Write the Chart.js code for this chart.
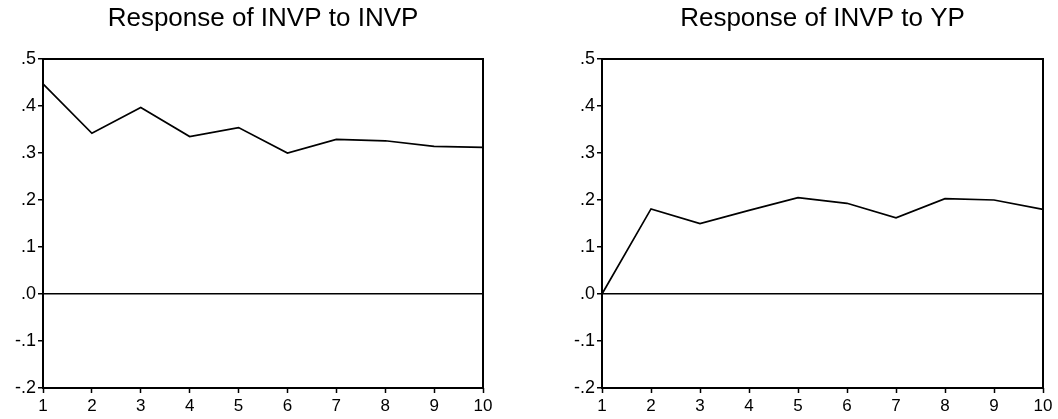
<!DOCTYPE html>
<html>
<head>
<meta charset="utf-8">
<script src="https://cdn.jsdelivr.net/npm/chart.js@4"></script>
<style>
  html, body { margin: 0; padding: 0; background: #fff; }
  .panel { position: absolute; top: 0; width: 529px; height: 419px; }
</style>
</head>
<body>
<div class="panel" style="left:0"><canvas id="chartLeft" width="529" height="419"></canvas></div>
<div class="panel" style="left:529px"><canvas id="chartRight" width="529" height="419"></canvas></div>
<script>
const periods = ['1', '2', '3', '4', '5', '6', '7', '8', '9', '10'];
const invpToInvp = [0.447, 0.342, 0.397, 0.335, 0.354, 0.300, 0.329, 0.326, 0.314, 0.312];
const invpToYp = [0.000, 0.181, 0.150, 0.178, 0.205, 0.193, 0.162, 0.203, 0.200, 0.180];
const titleLeft = 'Response of INVP to INVP';
const titleRight = 'Response of INVP to YP';
const yMin = -0.2;
const yMax = 0.5;
const yStep = 0.1;

const fontFamily = '"Liberation Sans", Arial, Helvetica, sans-serif';
Chart.defaults.font.family = fontFamily;
Chart.defaults.color = '#000';

// title text + box round the plot area
const framePlugin = {
    id: 'frame',
    afterDraw(chart, args, opts) {
        const a = chart.chartArea;
        const ctx = chart.ctx;
        ctx.save();
        ctx.strokeStyle = '#000';
        ctx.lineWidth = 2;
        ctx.strokeRect(a.left, a.top, a.right - a.left, a.bottom - a.top);
        ctx.fillStyle = '#000';
        ctx.font = '26px ' + fontFamily;
        ctx.textAlign = 'center';
        ctx.textBaseline = 'alphabetic';
        ctx.fillText(opts.text, (a.left + a.right) / 2, 26);
        ctx.restore();
    }
};

function makeChart(id, title, values, axisWidth, padRight) {
    return new Chart(document.getElementById(id), {
        type: 'line',
        data: {
            labels: periods,
            datasets: [{
                data: values,
                borderColor: '#000',
                borderWidth: 1.7,
                pointRadius: 0,
                tension: 0,
                fill: false
            }]
        },
        options: {
            responsive: false,
            animation: false,
            layout: { padding: { top: 59, right: padRight, bottom: 0, left: 0 } },
            plugins: {
                legend: { display: false },
                tooltip: { enabled: false },
                frame: { text: title }
            },
            scales: {
                x: {
                    offset: false,
                    afterFit: s => { s.height = 31; },
                    grid: { drawOnChartArea: false, tickLength: 5, tickColor: '#000', tickWidth: 1.5 },
                    border: { display: false },
                    ticks: { font: { size: 17 }, padding: 3, maxRotation: 0, autoSkip: false }
                },
                y: {
                    min: yMin,
                    max: yMax,
                    afterFit: s => { s.width = axisWidth; },
                    grid: {
                        color: c => Math.abs(c.tick.value) < 1e-9 ? '#000' : 'rgba(0,0,0,0)',
                        lineWidth: 1.5,
                        tickLength: 5,
                        tickColor: '#000',
                        tickWidth: 1.5
                    },
                    border: { display: false },
                    ticks: {
                        stepSize: yStep,
                        font: { size: 18 },
                        padding: 2,
                        callback: v => {
                            const r = Math.round(v * 10) / 10;
                            return r.toFixed(1).replace('0.', '.');
                        }
                    }
                }
            }
        },
        plugins: [framePlugin]
    });
}

makeChart('chartLeft', titleLeft, invpToInvp, 43, 46);
makeChart('chartRight', titleRight, invpToYp, 73, 15);
</script>
</body>
</html>
